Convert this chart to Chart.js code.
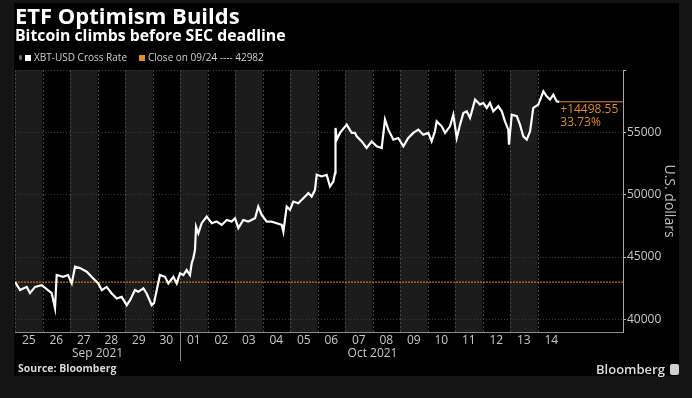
<!DOCTYPE html>
<html>
<head>
<meta charset="utf-8">
<script src="https://cdn.jsdelivr.net/npm/chart.js@4.4.0/dist/chart.umd.min.js"></script>
<style>
  html, body { margin: 0; padding: 0; background: #141414; }
  #wrap { position: relative; width: 692px; height: 398px; overflow: hidden; font-family: "Open Sans", "Liberation Sans", sans-serif; }
  #panel { position: absolute; left: 14px; top: 3px; width: 665px; height: 373px; background: #000; }
  #chart { position: absolute; left: 0; top: 0; }
  .txt { position: absolute; white-space: nowrap; }
  #title { left: 15px; top: 0px; font-size: 22px; font-weight: bold; color: #fff; }
  #subtitle { left: 15px; top: 24px; font-size: 15.8px; font-weight: bold; color: #fff; }
  #legend { left: 19px; top: 50px; font-size: 10px; color: #cfcfcf; }
  #legend .pin { display: inline-block; width: 3px; height: 5px; background: #666; border-radius: 2px; margin-right: 3px; vertical-align: 1px; }
  #legend .sw { display: inline-block; width: 6px; height: 6px; margin: 0 3px 0 0; vertical-align: 0px; }
  #legend .item { margin-right: 12px; }
  #source { left: 18px; top: 361px; font-size: 10.5px; font-weight: bold; color: #d8d8d8; }
  #brand { left: 596px; top: 360px; font-size: 13px; font-weight: 600; color: #dcdcdc; }
  #brand .ico { display: inline-block; width: 9px; height: 11px; background: #cfcfcf; border-radius: 2px; margin-left: 5px; vertical-align: -1px; }
</style>
</head>
<body>
<div id="wrap">
  <div id="panel"></div>
  <canvas id="chart" width="692" height="398"></canvas>
  <div class="txt" id="title">ETF Optimism Builds</div>
  <div class="txt" id="subtitle">Bitcoin climbs before SEC deadline</div>
  <div class="txt" id="legend"></div>
  <div class="txt" id="source">Source: Bloomberg</div>
  <div class="txt" id="brand">Bloomberg<span class="ico"></span></div>
</div>
<script>
// series: XBT-USD, hours counted from Sep 25 00:00
const hours = [
  0, 4.4, 10.2, 13.1, 17.5, 23.3, 28.8, 32.0, 34.9, 36.4,
  41.9, 46.3, 49.5, 52.4, 56.7, 62.6, 68.3, 72.7, 75.7, 80.0,
  84.4, 88.8, 93.1, 97.5, 100.4, 104.7, 107.6, 112.0, 114.9, 119.3,
  121.3, 123.7, 126.5, 130.9, 133.8, 138.2, 141.1, 144.0, 146.9, 149.8,
  152.7, 154.2, 155.6, 157.1, 158.0, 160.0, 162.9, 167.3, 171.7, 176.0,
  180.4, 184.8, 189.1, 192.0, 194.9, 199.2, 203.6, 209.5, 212.3, 215.3,
  219.7, 224.0, 228.4, 232.8, 234.2, 237.1, 240.0, 242.9, 247.2, 251.6,
  256.0, 258.9, 261.8, 263.3, 267.7, 272.0, 274.9, 277.8, 279.3, 279.7,
  280.8, 283.6, 289.5, 293.8, 296.7, 298.2, 302.6, 306.9, 311.3, 315.7,
  320.0, 322.9, 325.8, 330.2, 334.5, 338.9, 343.2, 347.6, 352.0, 356.3,
  360.7, 363.6, 366.5, 368.0, 372.4, 375.3, 379.6, 382.5, 385.5, 388.4,
  391.3, 394.2, 397.1, 401.5, 405.8, 408.7, 411.7, 414.5, 417.4, 421.8,
  424.8, 427.6, 430.5, 431.1, 433.5, 437.9, 440.7, 443.6, 446.6, 449.5,
  452.3, 456.7, 461.1, 464.0, 466.9, 469.8, 472.7, 475.0
];
const prices = [
  43000, 42340, 42600, 42100, 42600, 42740, 42340, 42100, 40890, 43550,
  43410, 43550, 42880, 44220, 44110, 43820, 43280, 42880, 42340, 42600,
  42070, 41670, 41800, 41130, 41530, 42340, 42200, 42480, 42070, 41130,
  41290, 42340, 43550, 43410, 42880, 43410, 42880, 43690, 43550, 43950,
  43550, 44490, 44900, 45570, 47440, 46910, 47720, 48250, 47720, 47850,
  47580, 47980, 47850, 48120, 47320, 47980, 47850, 48120, 49060, 48390,
  47850, 47850, 47720, 47580, 47040, 49060, 48790, 49460, 49330, 49730,
  50140, 49860, 50400, 51610, 51480, 51610, 50670, 51070, 51750, 55380,
  54440, 54980, 55650, 54980, 54980, 54700, 54300, 53770, 54300, 53900,
  53770, 56050, 55240, 54440, 54570, 53900, 54570, 54980, 55240, 54840,
  54980, 54300, 55110, 55910, 55510, 54980, 55510, 56450, 54570, 55650,
  56590, 56720, 56190, 57660, 57260, 57400, 56990, 57400, 56720, 57120,
  56720, 55910, 55240, 54030, 56450, 56320, 55650, 54700, 54440, 55110,
  56990, 57260, 58330, 57930, 57660, 58060, 57520, 57480.55
];

const dayLabels = ['25', '26', '27', '28', '29', '30', '01', '02', '03', '04',
  '05', '06', '07', '08', '09', '10', '11', '12', '13', '14'];
const dayMonths = [0, 0, 0, 0, 0, 0, 1, 1, 1, 1, 1, 1, 1, 1, 1, 1, 1, 1, 1, 1];
const monthLabels = ['Sep 2021', 'Oct 2021'];
const yTickValues = [40000, 45000, 50000, 55000, 60000];

const seriesName = 'XBT-USD Cross Rate';
const closeDate = '09/24';
const closeValue = 42982;

const orange = '#e38b1c';
const font = '"Open Sans", "Liberation Sans", sans-serif';

// legend
document.getElementById('legend').innerHTML =
  '<span class="pin"></span>' +
  '<span class="item"><span class="sw" style="background:#fff"></span>' + seriesName + '</span>' +
  '<span class="item"><span class="sw" style="background:' + orange + '"></span>Close on ' +
  closeDate + ' ---- ' + closeValue + '</span>';

const lastHour = hours[hours.length - 1];
const lastPrice = prices[prices.length - 1];
const axisEnd = 530.6;

// x ticks: one per day (centre) plus month captions
const monthCentres = monthLabels.map((m, k) => {
  const idx = dayMonths.map((v, i) => v === k ? i : -1).filter(i => i >= 0);
  return (idx[0] + idx[idx.length - 1] + 1) / 2 * 24;
});
const xTicks = dayLabels.map((d, i) => ({ value: i * 24 + 12, label: d }))
  .concat(monthLabels.map((m, k) => ({ value: monthCentres[k], label: ['', m] })))
  .sort((a, b) => a.value - b.value);

const backdrop = {
  id: 'backdrop',
  beforeDraw(chart) {
    const { ctx, chartArea: a, scales: { x } } = chart;
    ctx.save();
    dayLabels.forEach((d, i) => {
      const x0 = x.getPixelForValue(i * 24);
      const x1 = x.getPixelForValue((i + 1) * 24);
      if (i % 2 === 0) {
        ctx.fillStyle = '#1c1c1c';
        ctx.fillRect(x0, a.top, x1 - x0, a.bottom - a.top);
      }
      ctx.strokeStyle = '#444';
      ctx.lineWidth = 1;
      ctx.setLineDash([2, 2]);
      ctx.beginPath();
      ctx.moveTo(Math.round(x0) + 0.5, a.top);
      ctx.lineTo(Math.round(x0) + 0.5, a.bottom);
      ctx.stroke();
    });
    ctx.restore();
  },
  afterDraw(chart) {
    const { ctx, chartArea: a, scales: { x, y } } = chart;
    ctx.save();
    // month separator below the axis
    const firstOct = dayMonths.indexOf(1) * 24;
    const sx = Math.round(x.getPixelForValue(firstOct)) + 0.5;
    ctx.strokeStyle = '#8a8a8a';
    ctx.lineWidth = 1;
    ctx.beginPath();
    ctx.moveTo(sx, a.bottom);
    ctx.lineTo(sx, a.bottom + 29);
    ctx.stroke();
    // change since close
    const change = lastPrice - closeValue;
    const pct = change / closeValue * 100;
    const lx = x.getPixelForValue(lastHour) + 1;
    const ly = y.getPixelForValue(lastPrice);
    ctx.fillStyle = orange;
    ctx.font = '12px ' + font;
    ctx.textBaseline = 'middle';
    ctx.fillText('+' + change.toFixed(2), lx, ly + 8);
    ctx.fillText(pct.toFixed(2) + '%', lx, ly + 21);
    ctx.restore();
  }
};

new Chart(document.getElementById('chart'), {
  type: 'line',
  data: {
    datasets: [
      {
        label: seriesName,
        data: hours.map((h, i) => ({ x: h, y: prices[i] })),
        borderColor: '#ffffff',
        borderWidth: 2.2,
        pointRadius: 0,
        tension: 0,
        order: 0
      },
      {
        label: 'Close on ' + closeDate,
        data: [{ x: 0, y: closeValue }, { x: axisEnd, y: closeValue }],
        borderColor: orange,
        borderWidth: 1,
        borderDash: [2, 1],
        pointRadius: 0,
        order: 2
      },
      {
        label: 'Last',
        data: [{ x: lastHour, y: lastPrice }, { x: axisEnd, y: lastPrice }],
        borderColor: orange,
        borderWidth: 1,
        pointRadius: 0,
        order: 1
      }
    ]
  },
  options: {
    responsive: false,
    animation: false,
    devicePixelRatio: 1,
    layout: { padding: { left: 15, top: 70, right: 0, bottom: 0 } },
    plugins: { legend: { display: false }, tooltip: { enabled: false } },
    scales: {
      x: {
        type: 'linear',
        min: 0,
        max: axisEnd,
        afterBuildTicks: (s) => { s.ticks = xTicks.map(t => ({ value: t.value })); },
        afterFit: (s) => { s.height = 66; },
        ticks: {
          autoSkip: false,
          maxRotation: 0,
          padding: 2,
          color: '#c8c8c8',
          font: { family: font, size: 12, lineHeight: 1.1 },
          callback: (v) => {
            const t = xTicks.find(t => t.value === v);
            return t ? t.label : '';
          }
        },
        grid: { display: false, drawTicks: false },
        border: { display: true, color: '#8a8a8a', width: 1 }
      },
      y: {
        position: 'right',
        min: 38970,
        max: 60040,
        afterBuildTicks: (s) => { s.ticks = yTickValues.map(v => ({ value: v })); },
        afterFit: (s) => { s.width = 69; },
        ticks: {
          padding: 1,
          color: '#c8c8c8',
          font: { family: font, size: 12 },
          callback: (v) => v === 60000 ? '' : String(v)
        },
        grid: { color: '#3a3a3a', lineWidth: 1, drawTicks: true, tickLength: 3, tickColor: '#bbbbbb' },
        border: { display: true, color: '#aaaaaa', width: 1, dash: [1, 2] },
        title: {
          display: true,
          text: 'U.S. dollars',
          color: '#bdbdbd',
          font: { family: font, size: 14 },
          padding: { top: 15, bottom: 0 }
        }
      }
    }
  },
  plugins: [backdrop]
});
</script>
</body>
</html>
